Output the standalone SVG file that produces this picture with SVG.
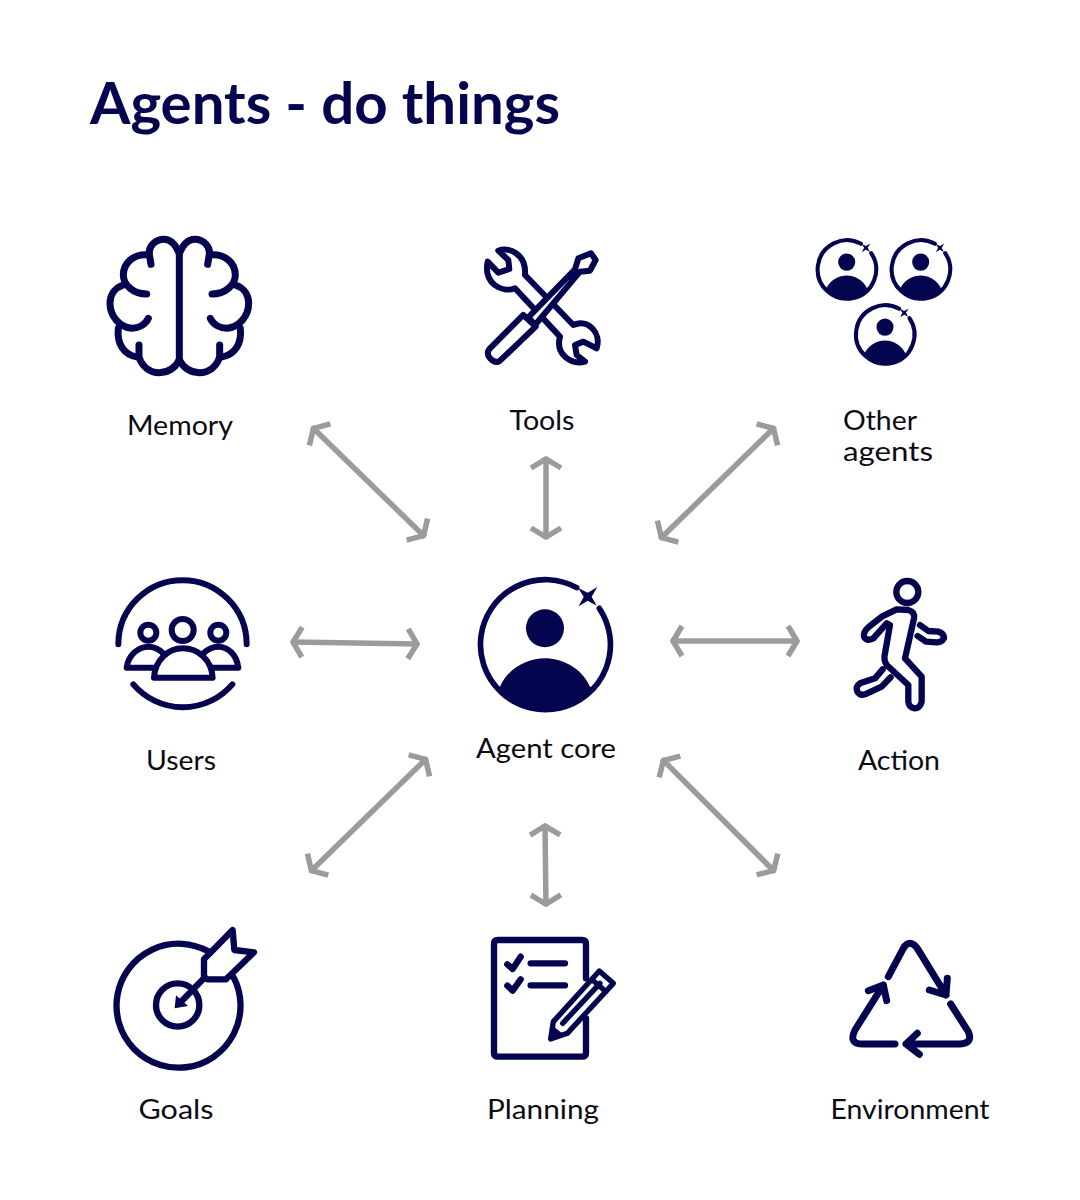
<svg xmlns="http://www.w3.org/2000/svg" xmlns:xlink="http://www.w3.org/1999/xlink" width="1080" height="1200" viewBox="0 0 1080 1200">
<style>
.bg{fill:#fff}
.t{font-family:"Lato","Liberation Sans",sans-serif;font-size:27px;fill:#0b0b14}
.h{font-family:"Lato","Liberation Sans",sans-serif;font-size:57px;font-weight:700;fill:#05054f}
.i{fill:none;stroke:#05054f;stroke-width:21;stroke-linecap:round;stroke-linejoin:round}
.f{fill:#05054f;stroke:none}
.w{fill:#fff}
.a{stroke:#9a9c9c;stroke-width:5.5;fill:none;marker-start:url(#ah);marker-end:url(#ah)}
</style>
<defs>
<marker id="ah" markerUnits="userSpaceOnUse" viewBox="-16 -22 20 44" refX="2" refY="0" markerWidth="20" markerHeight="44" orient="auto-start-reverse">
<path d="M-9 -15L0 0L-9 15" fill="none" stroke="#9a9c9c" stroke-width="5.5"/>
</marker>
<g id="person">
<path d="M163 -108A195 195 0 1 1 95 -170" fill="none" stroke="#05054f" stroke-linecap="round"/>
<circle class="f" cx="0" cy="-48" r="57"/>
<path class="f" d="M-135 127C-110 70 -50 42 0 42C50 42 110 70 135 127L147 128A195 195 0 0 1 -147 128Z"/>
<path class="f" transform="translate(128 -143)" d="M-29 -27L0 -12L29 -29L12 0L27 27L0 12L-27 29L-12 0Z"/>
</g>
<g id="brainhalf">
<path d="M268 100C255 70 240 58 222 58C195 58 175 80 178 103L183 133"/>
<path d="M176 105C130 100 100 130 100 165C100 195 130 222 170 222"/>
<path d="M100 195C70 205 60 230 60 250C60 290 90 322 125 325C145 325 165 315 175 295"/>
<path d="M85 325C80 370 100 405 145 412"/>
<path d="M147 375L147 410C155 440 180 458 208 458C235 458 255 445 268 420"/>
</g>
</defs>
<rect class="bg" width="1080" height="1200"/>
<text class="h" x="90" y="124" textLength="470" lengthAdjust="spacingAndGlyphs">Agents - do things</text>
<g id="connectors">
<line class="a" x1="312" y1="427" x2="425" y2="537"/>
<line class="a" x1="546" y1="457" x2="546" y2="539"/>
<line class="a" x1="775" y1="427" x2="660" y2="539"/>
<line class="a" x1="291" y1="642" x2="419" y2="644"/>
<line class="a" x1="671" y1="641" x2="799" y2="641"/>
<line class="a" x1="427" y1="758" x2="310" y2="872"/>
<line class="a" x1="545" y1="824" x2="546" y2="906"/>
<line class="a" x1="662" y1="759" x2="775" y2="872"/>
</g>
<g id="memory">
<g class="i" transform="translate(90 220) scale(.3333)">
<use xlink:href="#brainhalf" href="#brainhalf"/>
<use xlink:href="#brainhalf" href="#brainhalf" transform="translate(536 0) scale(-1 1)"/>
<path d="M268 90V425"/>
</g>
<text class="t" x="180" y="435" text-anchor="middle" textLength="106" lengthAdjust="spacingAndGlyphs">Memory</text>
</g>
<g id="tools">
<g class="i" style="stroke-width:18" transform="translate(465 230) scale(.3333)">
<path d="M68 95L100 128L133 117L130 90L100 62C130 50 185 70 180 135L325 285C370 265 410 310 395 355L355 335L330 345L335 375L360 395C320 405 270 375 285 320L150 175C110 190 55 160 68 95Z"/>
<path class="w" d="M190 262L330 118L340 85L378 70L392 90L375 122L345 125L210 285Z"/>
<path class="w" d="M175 255L212 290L105 392Q90 402 75 385Q62 370 75 355Z"/>
</g>
<text class="t" x="542" y="430" text-anchor="middle" textLength="65" lengthAdjust="spacingAndGlyphs">Tools</text>
</g>
<g id="other-agents">
<use href="#person" transform="translate(846.7 269.3) scale(.15)" stroke-width="27"/>
<use href="#person" transform="translate(920.7 269.3) scale(.15)" stroke-width="27"/>
<use href="#person" transform="translate(885 334.3) scale(.15)" stroke-width="27"/>
<text class="t" x="843" y="430" textLength="74" lengthAdjust="spacingAndGlyphs">Other</text>
<text class="t" x="843" y="461" textLength="90" lengthAdjust="spacingAndGlyphs">agents</text>
</g>
<g id="users">
<g class="i" style="stroke-width:18" transform="translate(100 565) scale(.3333)">
<path d="M55 238A192.5 192.5 0 0 1 440 238"/>
<path d="M100 358A195 195 0 0 0 397 358"/>
<circle cx="248" cy="195" r="33"/>
<circle cx="145" cy="203" r="24"/>
<circle cx="355" cy="203" r="24"/>
<path d="M80 308C85 270 115 245 145 245C165 245 180 255 190 265M80 308H160"/>
<path d="M415 308C410 270 385 245 355 245C335 245 320 255 310 265M415 308H340"/>
<path d="M162 338C165 285 205 250 248 250C295 250 335 285 338 338Z"/>
</g>
<text class="t" x="181" y="770" text-anchor="middle" textLength="70" lengthAdjust="spacingAndGlyphs">Users</text>
</g>
<g id="agent-core">
<use href="#person" transform="translate(545 644.3) scale(.3333)" stroke-width="17"/>
<text class="t" x="546" y="758" text-anchor="middle" textLength="140" lengthAdjust="spacingAndGlyphs">Agent core</text>
</g>
<g id="action">
<g class="i" style="stroke-width:19" transform="translate(840 570) scale(.3333)">
<circle cx="202" cy="66" r="33"/>
<path d="M85 172L125 140L170 118L205 120Q225 125 222 145L195 265L245 320V395Q240 415 224 415Q206 412 205 395V345L140 285Q130 270 135 250L150 165L140 160L100 205Q80 215 72 200Q70 185 85 172Z"/>
<path d="M240 165L265 183L295 185Q312 190 312 205Q305 218 290 217L258 215L233 198"/>
<path d="M128 298L105 325L60 340Q45 350 52 365Q60 378 75 373L125 350L152 322"/>
</g>
<text class="t" x="899" y="770" text-anchor="middle" textLength="82" lengthAdjust="spacingAndGlyphs">Action</text>
</g>
<g id="goals">
<g class="i" style="stroke-width:19" transform="translate(100 920) scale(.3333)">
<path d="M401 172A186 186 0 1 1 325 94"/>
<circle cx="233" cy="255" r="65"/>
<path d="M240 248L312 175"/>
<path d="M312 118L398 30L403 90L462 97L378 178H322L312 170Z"/>
<path class="f" d="M224 265L228 226L264 258Z"/>
</g>
<text class="t" x="176" y="1119" text-anchor="middle" textLength="75" lengthAdjust="spacingAndGlyphs">Goals</text>
</g>
<g id="planning">
<g class="i" style="stroke-width:19" transform="translate(480 925) scale(.3333)">
<path d="M318 160V57Q318 45 306 45H54Q42 45 42 57V383Q42 395 54 395H306Q318 395 318 383V280"/>
<path d="M82 118L98 132L122 95M82 182L98 197L122 163M152 115H255M152 181H255"/>
<path style="stroke-width:16" d="M212 342L220 290L358 138L400 175L262 325ZM335 163L378 200M248 295L360 175"/>
<path class="f" d="M213 340L222 305L248 326Z"/>
</g>
<text class="t" x="543" y="1119" text-anchor="middle" textLength="112" lengthAdjust="spacingAndGlyphs">Planning</text>
</g>
<g id="environment">
<g class="i" transform="translate(840 930) scale(.3333)">
<path d="M145 140L190 55Q208 25 232 55L318 195M268 180L318 195L322 145"/>
<path d="M332 222L385 305Q400 340 360 342H198M232 310L198 342L238 373"/>
<path d="M165 342H65Q25 340 45 300L130 165M85 182L130 165L140 212"/>
</g>
<text class="t" x="910" y="1119" text-anchor="middle" textLength="159" lengthAdjust="spacingAndGlyphs">Environment</text>
</g>
</svg>
